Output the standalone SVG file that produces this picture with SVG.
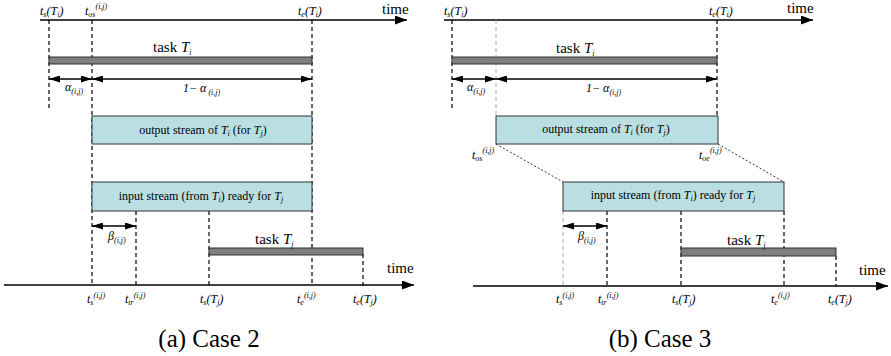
<svg xmlns="http://www.w3.org/2000/svg" width="891" height="356" viewBox="0 0 891 356" font-family="'Liberation Serif', 'Times New Roman', Tinos, 'DejaVu Serif', serif">
<style>
.ax{stroke:#000;stroke-width:1.6;fill:none}
.dl{stroke:#000;stroke-width:1.2;stroke-dasharray:4 3;fill:none}
.dg{stroke:#aaa;stroke-width:1;stroke-dasharray:4 3;fill:none}
.dot{stroke:#333;stroke-width:1;stroke-dasharray:2 2;fill:none}
.da{stroke:#000;stroke-width:1.6;fill:none}
.bar{fill:#7f7f7f;stroke:#333;stroke-width:1}
.box{fill:#b9dfe3;stroke:#333;stroke-width:1}
text{font-family:'Liberation Serif','Times New Roman',Tinos,'DejaVu Serif',serif}
.m{font-style:italic;font-size:12px;fill:#000}
.s{font-size:8px}
.r{font-size:15px;fill:#000}
.bt{font-size:12px;fill:#000;text-anchor:middle}
.cap{font-size:25px;fill:#000;text-anchor:middle}
</style>
<defs>
<marker id="ah" markerWidth="11" markerHeight="7" refX="11" refY="3.5" orient="auto-start-reverse" markerUnits="userSpaceOnUse"><path d="M0,0 L11,3.5 L0,7 z" fill="#000"/></marker>
<marker id="axh" markerWidth="12" markerHeight="9" refX="12" refY="4.5" orient="auto" markerUnits="userSpaceOnUse"><path d="M0,0 L12,4.5 L0,9 z" fill="#000"/></marker>
</defs>

<!-- ===== Case 2 ===== -->
<g id="case2-connectors">
<line class="ax" x1="40" y1="20" x2="407" y2="20" marker-end="url(#axh)"/>
<line class="ax" x1="4" y1="285" x2="414" y2="285" marker-end="url(#axh)"/>
<line class="dl" x1="49" y1="20" x2="49" y2="108"/>
<line class="dl" x1="92" y1="20" x2="92" y2="286"/>
<line class="dl" x1="312" y1="20" x2="312" y2="286"/>
<line class="dl" x1="136" y1="211" x2="136" y2="286"/>
<line class="dl" x1="209" y1="211" x2="209" y2="286"/>
<line class="dl" x1="363" y1="254" x2="363" y2="286"/>
<line class="da" x1="49" y1="79" x2="92" y2="79" marker-start="url(#ah)" marker-end="url(#ah)"/>
<line class="da" x1="92" y1="79" x2="312" y2="79" marker-start="url(#ah)" marker-end="url(#ah)"/>
<line class="da" x1="92" y1="226" x2="136" y2="226" marker-start="url(#ah)" marker-end="url(#ah)"/>
</g>
<g id="case2-taskTi">
<rect class="bar" x="49" y="57" width="263" height="7"/>
<text class="r" x="153" y="52">task <tspan font-style="italic">T</tspan><tspan class="s" font-style="italic" dy="3">i</tspan></text>
</g>
<g id="case2-output">
<rect class="box" x="92" y="116" width="220" height="28"/>
<text class="bt" x="203" y="134">output stream of <tspan font-style="italic">T</tspan><tspan class="s" font-style="italic" dy="2">i</tspan><tspan dy="-2"> (for </tspan><tspan font-style="italic">T</tspan><tspan class="s" font-style="italic" dy="2">j</tspan><tspan dy="-2">)</tspan></text>
</g>
<g id="case2-input">
<rect class="box" x="92" y="182" width="220" height="29"/>
<text class="bt" x="201" y="200">input stream (from <tspan font-style="italic">T</tspan><tspan class="s" font-style="italic" dy="2">i</tspan><tspan dy="-2">) ready for </tspan><tspan font-style="italic">T</tspan><tspan class="s" font-style="italic" dy="2">j</tspan></text>
</g>
<g id="case2-taskTj">
<rect class="bar" x="209" y="248" width="154" height="7"/>
<text class="r" x="255" y="244">task <tspan font-style="italic">T</tspan><tspan class="s" font-style="italic" dy="3">j</tspan></text>
</g>
<g id="case2-labels">
<text class="r" x="382" y="14">time</text>
<text class="r" x="387" y="273">time</text>
<text class="m" x="40" y="15">t<tspan class="s" dy="2">s</tspan><tspan dy="-2">(T</tspan><tspan class="s" dy="2">i</tspan><tspan dy="-2">)</tspan></text>
<text class="m" x="85" y="15">t<tspan class="s" dy="2">os</tspan><tspan class="s" dy="-8">(i,j)</tspan></text>
<text class="m" x="298" y="15">t<tspan class="s" dy="2">e</tspan><tspan dy="-2">(T</tspan><tspan class="s" dy="2">i</tspan><tspan dy="-2">)</tspan></text>
<text class="m" x="65" y="91" font-size="15">α<tspan class="s" dy="3">(i,j)</tspan></text>
<text class="m" x="183" y="92" font-size="14">1− α<tspan class="s" dy="3"> (i,j)</tspan></text>
<text class="m" x="108" y="240" font-size="15">β<tspan class="s" dy="3">(i,j)</tspan></text>
<text class="m" x="87" y="303">t<tspan class="s" dy="2">s</tspan><tspan class="s" dy="-7">(i,j)</tspan></text>
<text class="m" x="125" y="303">t<tspan class="s" dy="2">tr</tspan><tspan class="s" dy="-7">(i,j)</tspan></text>
<text class="m" x="200" y="303">t<tspan class="s" dy="2">s</tspan><tspan dy="-2">(T</tspan><tspan class="s" dy="2">j</tspan><tspan dy="-2">)</tspan></text>
<text class="m" x="297" y="303">t<tspan class="s" dy="2">e</tspan><tspan class="s" dy="-7">(i,j)</tspan></text>
<text class="m" x="353" y="303">t<tspan class="s" dy="2">e</tspan><tspan dy="-2">(T</tspan><tspan class="s" dy="2">j</tspan><tspan dy="-2">)</tspan></text>
<text class="cap" x="209" y="347">(a) Case 2</text>
</g>

<!-- ===== Case 3 ===== -->
<g id="case3-connectors">
<line class="ax" x1="444" y1="20" x2="813" y2="20" marker-end="url(#axh)"/>
<line class="ax" x1="473" y1="286" x2="888" y2="286" marker-end="url(#axh)"/>
<line class="dl" x1="452" y1="20" x2="452" y2="108"/>
<line class="dg" x1="496" y1="20" x2="496" y2="116"/>
<line class="dl" x1="717" y1="20" x2="717" y2="116"/>
<line class="dg" x1="563" y1="211" x2="563" y2="286"/>
<line class="dl" x1="607" y1="211" x2="607" y2="286"/>
<line class="dl" x1="681" y1="211" x2="681" y2="286"/>
<line class="dl" x1="784" y1="211" x2="784" y2="286"/>
<line class="dl" x1="836" y1="256" x2="836" y2="286"/>
<line class="dot" x1="496" y1="144" x2="563" y2="182"/>
<line class="dot" x1="718" y1="144" x2="784" y2="182"/>
<line class="da" x1="452" y1="79" x2="496" y2="79" marker-start="url(#ah)" marker-end="url(#ah)"/>
<line class="da" x1="496" y1="79" x2="717" y2="79" marker-start="url(#ah)" marker-end="url(#ah)"/>
<line class="da" x1="563" y1="226" x2="607" y2="226" marker-start="url(#ah)" marker-end="url(#ah)"/>
</g>
<g id="case3-taskTi">
<rect class="bar" x="452" y="57" width="265" height="7"/>
<text class="r" x="556" y="53">task <tspan font-style="italic">T</tspan><tspan class="s" font-style="italic" dy="3">i</tspan></text>
</g>
<g id="case3-output">
<rect class="box" x="496" y="116" width="222" height="28"/>
<text class="bt" x="606" y="133">output stream of <tspan font-style="italic">T</tspan><tspan class="s" font-style="italic" dy="2">i</tspan><tspan dy="-2"> (for </tspan><tspan font-style="italic">T</tspan><tspan class="s" font-style="italic" dy="2">j</tspan><tspan dy="-2">)</tspan></text>
</g>
<g id="case3-input">
<rect class="box" x="563" y="182" width="221" height="29"/>
<text class="bt" x="673" y="199">input stream (from <tspan font-style="italic">T</tspan><tspan class="s" font-style="italic" dy="2">i</tspan><tspan dy="-2">) ready for </tspan><tspan font-style="italic">T</tspan><tspan class="s" font-style="italic" dy="2">j</tspan></text>
</g>
<g id="case3-taskTj">
<rect class="bar" x="681" y="248" width="155" height="8"/>
<text class="r" x="727" y="245">task <tspan font-style="italic">T</tspan><tspan class="s" font-style="italic" dy="3">j</tspan></text>
</g>
<g id="case3-labels">
<text class="r" x="787" y="13">time</text>
<text class="r" x="859" y="275">time</text>
<text class="m" x="444" y="15">t<tspan class="s" dy="2">s</tspan><tspan dy="-2">(T</tspan><tspan class="s" dy="2">i</tspan><tspan dy="-2">)</tspan></text>
<text class="m" x="709" y="15">t<tspan class="s" dy="2">e</tspan><tspan dy="-2">(T</tspan><tspan class="s" dy="2">i</tspan><tspan dy="-2">)</tspan></text>
<text class="m" x="467" y="91" font-size="15">α<tspan class="s" dy="3">(i,j)</tspan></text>
<text class="m" x="586" y="92" font-size="14">1− α<tspan class="s" dy="3">(i,j)</tspan></text>
<text class="m" x="472" y="159">t<tspan class="s" dy="2">os</tspan><tspan class="s" dy="-8">(i,j)</tspan></text>
<text class="m" x="699" y="159">t<tspan class="s" dy="2">oe</tspan><tspan class="s" dy="-8">(i,j)</tspan></text>
<text class="m" x="578" y="240" font-size="15">β<tspan class="s" dy="3">(i,j)</tspan></text>
<text class="m" x="556" y="303">t<tspan class="s" dy="2">s</tspan><tspan class="s" dy="-7">(i,j)</tspan></text>
<text class="m" x="598" y="303">t<tspan class="s" dy="2">tr</tspan><tspan class="s" dy="-7">(i,j)</tspan></text>
<text class="m" x="672" y="303">t<tspan class="s" dy="2">s</tspan><tspan dy="-2">(T</tspan><tspan class="s" dy="2">j</tspan><tspan dy="-2">)</tspan></text>
<text class="m" x="771" y="303">t<tspan class="s" dy="2">e</tspan><tspan class="s" dy="-7">(i,j)</tspan></text>
<text class="m" x="828" y="303">t<tspan class="s" dy="2">e</tspan><tspan dy="-2">(T</tspan><tspan class="s" dy="2">j</tspan><tspan dy="-2">)</tspan></text>
<text class="cap" x="660" y="347">(b) Case 3</text>
</g>
</svg>
